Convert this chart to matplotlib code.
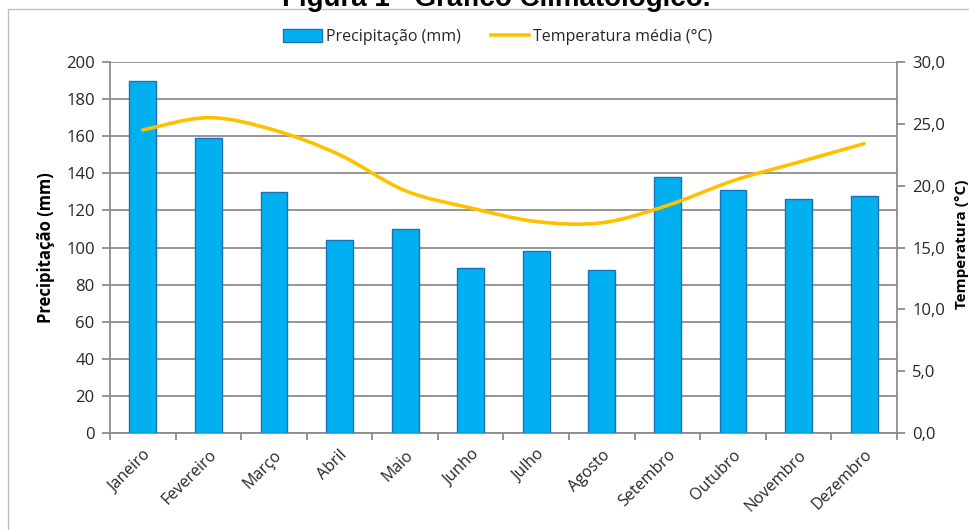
import matplotlib
matplotlib.use("Agg")
import matplotlib.pyplot as plt
import numpy as np
from matplotlib.path import Path
from matplotlib.patches import PathPatch, Rectangle, Patch
from matplotlib.lines import Line2D

# Monthly climate data
meses = ["Janeiro", "Fevereiro", "Março", "Abril", "Maio", "Junho",
         "Julho", "Agosto", "Setembro", "Outubro", "Novembro", "Dezembro"]
precipitacao = [190, 159, 130, 104, 110, 89, 98, 88, 138, 131, 126, 128]
temperatura = [24.5, 25.5, 24.5, 22.5, 19.6, 18.2, 17.1, 17.0, 18.4, 20.4, 21.9, 23.4]

prec_ticks = list(range(0, 201, 20))
temp_ticks = [0, 5, 10, 15, 20, 25, 30]

BAR_FACE = "#00B0F0"
BAR_EDGE = "#1F6FB8"
LINE_COL = "#FFC000"
GRID_COL = "#8C8C8C"
TEXT_COL = "#262626"
FONT = ["Open Sans", "DejaVu Sans"]

plt.rcParams["font.family"] = FONT

fig = plt.figure(figsize=(9.7, 5.3), dpi=100)
W, H = 970, 530

# Outer frame of the figure
fig.patches.append(Rectangle((8 / W, -0.1), 1.2, 1 - 9 / H + 0.1,
                             transform=fig.transFigure, fill=False,
                             edgecolor="#BFBFBF", linewidth=1.0))

# Title
fig.text(496 / W, 1 - 6 / H, "Figura 1 - Gráfico Climatológico.",
         ha="center", va="baseline", fontsize=20, fontweight="bold",
         family=["Liberation Sans", "DejaVu Sans"], color="#000000")

ax = fig.add_axes([110 / W, 1 - 433 / H, (897 - 110) / W, (433 - 62) / H])
x = np.arange(len(meses))

ax.bar(x, precipitacao, width=0.41, color=BAR_FACE, edgecolor=BAR_EDGE,
       linewidth=1.0, zorder=3)
ax.set_xlim(-0.5, len(meses) - 0.5)
ax.set_ylim(0, 200)
ax.set_yticks(prec_ticks)
ax.set_yticklabels([str(t) for t in prec_ticks])
ax.yaxis.grid(True, color=GRID_COL, linewidth=1.3, zorder=0)
ax.set_axisbelow(True)

# Category ticks sit between the months, labels at the centres
ax.set_xticks(np.arange(-0.5, len(meses), 1.0))
ax.set_xticklabels([])
ax.set_xticks(x, minor=True)
ax.set_xticklabels(meses, minor=True, rotation=45, ha="right",
                   rotation_mode="anchor", fontsize=11.5, color=TEXT_COL)
ax.tick_params(axis="x", which="minor", length=0, pad=10)
ax.tick_params(axis="x", which="major", length=5, width=1.3, color=GRID_COL)
ax.tick_params(axis="y", length=6, width=1.3, color=GRID_COL,
               labelsize=12, labelcolor=TEXT_COL, pad=5)

for side in ["left", "bottom"]:
    ax.spines[side].set_color(GRID_COL)
    ax.spines[side].set_linewidth(1.3)
ax.spines["top"].set_visible(False)
ax.spines["right"].set_visible(False)

ax.set_ylabel("Precipitação (mm)", fontsize=12, fontweight="bold",
              color="#000000", labelpad=8)

# Temperature on the secondary axis
ax2 = ax.twinx()
ax2.set_ylim(0, 30)
ax2.set_yticks(temp_ticks)
ax2.set_yticklabels([f"{t:.1f}".replace(".", ",") for t in temp_ticks])
ax2.tick_params(axis="y", length=6, width=1.3, color=GRID_COL,
                labelsize=12, labelcolor=TEXT_COL, pad=5)
for side in ["left", "bottom", "top"]:
    ax2.spines[side].set_visible(False)
ax2.spines["right"].set_color(GRID_COL)
ax2.spines["right"].set_linewidth(1.3)

# Right-hand axis title, placed in the narrow margin beside the tick labels
fig.text(962 / W, 1 - 244 / H, "Temperatura (°C)", rotation=90,
         ha="center", va="center", fontsize=11, fontweight="bold",
         color="#000000")

# Smoothed temperature curve (cubic Bezier through each monthly value)
pts = np.column_stack([x, temperatura]).astype(float)
n = len(pts)
verts = [tuple(pts[0])]
codes = [Path.MOVETO]
for i in range(n - 1):
    p0 = pts[i - 1] if i > 0 else pts[i]
    p1 = pts[i]
    p2 = pts[i + 1]
    p3 = pts[i + 2] if i + 2 < n else pts[i + 1]
    c1 = p1 + (p2 - p0) / 6.0
    c2 = p2 - (p3 - p1) / 6.0
    verts += [tuple(c1), tuple(c2), tuple(p2)]
    codes += [Path.CURVE4] * 3
ax2.add_patch(PathPatch(Path(verts, codes), facecolor="none",
                        edgecolor=LINE_COL, linewidth=2.6,
                        capstyle="round", zorder=4))

# Legend above the plot
handles = [Patch(facecolor=BAR_FACE, edgecolor=BAR_EDGE, linewidth=1.0),
           Line2D([0], [0], color=LINE_COL, linewidth=2.6)]
fig.legend(handles, ["Precipitação (mm)", "Temperatura média (°C)"],
           loc="center", bbox_to_anchor=(498 / W, 1 - 37 / H), ncol=2,
           frameon=False, fontsize=11.5, handlelength=2.4, handleheight=0.8,
           handletextpad=0.25, columnspacing=1.9, labelcolor=TEXT_COL)

fig.savefig("out.png", dpi=100)
